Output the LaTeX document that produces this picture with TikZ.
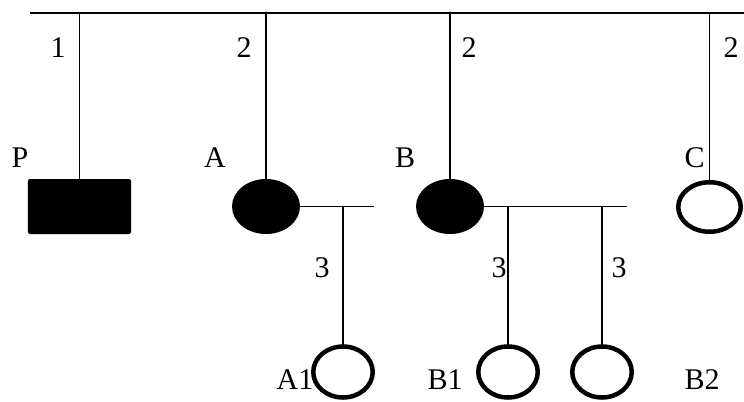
\documentclass[tikz,border=0pt]{standalone}
\usepackage{fontspec}
\setmainfont{Liberation Serif}
\usetikzlibrary{shapes.geometric}
\begin{document}
\begin{tikzpicture}[x=1bp,y=-1bp,line width=1.3bp,
        every node/.style={inner sep=0pt,outer sep=0pt},
        lbl/.style={font=\fontsize{30bp}{34bp}\selectfont},
        affected/.style={ellipse,fill=black,minimum width=68bp,minimum height=55bp},
        healthy/.style={ellipse,draw,line width=4.5bp,minimum width=59.5bp,minimum height=51bp}]
    \useasboundingbox (0,0) rectangle (744,401);
    \coordinate (tl) at (30,13);
    \coordinate (tr) at (744,13);
    \draw (tl) -- (tr);

    % generation II
    \node[fill=black,rounded corners=2bp,minimum width=103bp,minimum height=55bp] (P) at (79.5,206.5) {};
    \node[affected] (A) at (266,206.5) {};
    \node[affected] (B) at (450,206.5) {};
    \node[healthy,minimum width=62.5bp,minimum height=49.5bp] (C) at (709.5,207) {};
    \draw (P.north) -- (P.north |- tl);
    \draw (A.north) -- (A.north |- tl);
    \draw (B.north) -- (B.north |- tl);
    \draw (C.north) -- (C.north |- tl);

    % generation III
    \node[healthy] (A1) at (343,372) {};
    \node[healthy] (B1) at (508,372) {};
    \node[healthy] (B2) at (602,372) {};
    \coordinate (aend) at (374,206.5);
    \coordinate (bend) at (627,206.5);
    \draw (A.east) -- (aend);
    \draw (B.east) -- (bend);
    \draw (A1.north) -- (A1.north |- aend);
    \draw (B1.north) -- (B1.north |- bend);
    \draw (B2.north) -- (B2.north |- bend);

    % numbers
    \node[lbl] (nP) at (58,48) {1};
    \node[lbl] (nA) at (244,48) {2};
    \node[lbl] (nB) at (469,48) {2};
    \node[lbl] (nC) at (731,48) {2};
    \node[lbl] (nA1) at (322,268) {3};
    \node[lbl] (nB1) at (499,268) {3};
    \node[lbl] (nB2) at (619,268) {3};

    % names
    \node[lbl] (tP) at (20,158) {P};
    \node[lbl] (tA) at (215,158) {A};
    \node[lbl] (tB) at (405,158) {B};
    \node[lbl] (tC) at (694.5,158) {C};
    \node[lbl] (tA1) at (295,380) {A1};
    \node[lbl] (tB1) at (445,380) {B1};
    \node[lbl] (tB2) at (702,380) {B2};
\end{tikzpicture}
\end{document}
